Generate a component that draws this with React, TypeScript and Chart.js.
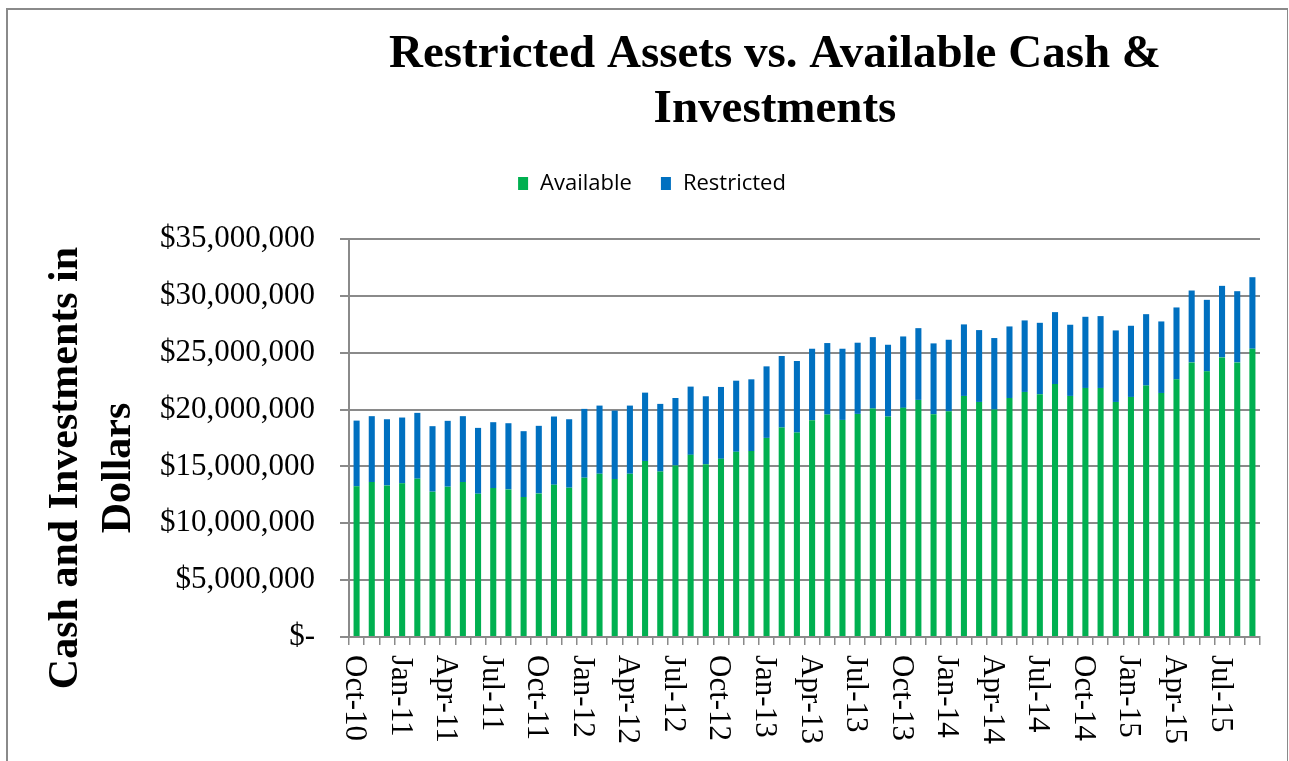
import React, { useEffect, useRef } from 'react';
import { Chart, registerables } from 'chart.js';

Chart.register(...registerables);

const months = [
  'Oct-10', 'Nov-10', 'Dec-10', 'Jan-11', 'Feb-11', 'Mar-11', 'Apr-11', 'May-11', 'Jun-11', 'Jul-11', 'Aug-11', 'Sep-11',
  'Oct-11', 'Nov-11', 'Dec-11', 'Jan-12', 'Feb-12', 'Mar-12', 'Apr-12', 'May-12', 'Jun-12', 'Jul-12', 'Aug-12', 'Sep-12',
  'Oct-12', 'Nov-12', 'Dec-12', 'Jan-13', 'Feb-13', 'Mar-13', 'Apr-13', 'May-13', 'Jun-13', 'Jul-13', 'Aug-13', 'Sep-13',
  'Oct-13', 'Nov-13', 'Dec-13', 'Jan-14', 'Feb-14', 'Mar-14', 'Apr-14', 'May-14', 'Jun-14', 'Jul-14', 'Aug-14', 'Sep-14',
  'Oct-14', 'Nov-14', 'Dec-14', 'Jan-15', 'Feb-15', 'Mar-15', 'Apr-15', 'May-15', 'Jun-15', 'Jul-15', 'Aug-15', 'Sep-15',
];

const available = [
  13250000, 13630000, 13330000, 13510000, 13920000, 12780000, 13220000, 13630000, 12600000, 13100000, 12980000, 12310000,
  12630000, 13390000, 13130000, 14010000, 14360000, 13890000, 14360000, 15480000, 14550000, 15090000, 16020000, 15200000,
  15670000, 16290000, 16350000, 17510000, 18420000, 17980000, 19060000, 19560000, 19090000, 19620000, 20090000, 19390000,
  20150000, 20850000, 19590000, 19850000, 21200000, 20670000, 20000000, 21020000, 21550000, 21350000, 22250000, 21200000,
  21900000, 21900000, 20670000, 21110000, 22110000, 21460000, 22660000, 24150000, 23360000, 24590000, 24150000, 25350000,
];

const restricted = [
  5780000, 5790000, 5820000, 5790000, 5790000, 5760000, 5790000, 5790000, 5790000, 5790000, 5820000, 5790000,
  5940000, 6000000, 6020000, 6050000, 5990000, 6020000, 5990000, 6010000, 5950000, 5930000, 6000000, 5970000,
  6320000, 6250000, 6310000, 6290000, 6290000, 6290000, 6290000, 6290000, 6260000, 6260000, 6280000, 6310000,
  6280000, 6310000, 6230000, 6290000, 6290000, 6320000, 6290000, 6290000, 6290000, 6280000, 6320000, 6260000,
  6260000, 6320000, 6290000, 6260000, 6280000, 6290000, 6320000, 6320000, 6290000, 6290000, 6260000, 6290000,
];

const seriesNames = ['Available', 'Restricted'];
const seriesColors = ['#00B050', '#0070C0'];
const titleLines = ['Restricted Assets vs. Available Cash &', 'Investments'];
const yTitleLines = ['Cash and Investments in', 'Dollars'];
const yMin = 0;
const yMax = 35000000;
const yStep = 5000000;
const xLabelEvery = 3;

const GRID = '#8a8a8a';
const SERIF = '"Liberation Serif", "Times New Roman", serif';

const decorPlugin = {
  id: 'decor',
  beforeDraw(chart: any) {
    const ctx = chart.ctx;
    ctx.save();
    ctx.fillStyle = '#ffffff';
    ctx.fillRect(0, 0, chart.width, chart.height);
    ctx.strokeStyle = GRID;
    ctx.lineWidth = 2;
    ctx.beginPath();
    ctx.moveTo(7, chart.height);
    ctx.lineTo(7, 9);
    ctx.lineTo(1288, 9);
    ctx.stroke();
    ctx.lineWidth = 1;
    ctx.beginPath();
    ctx.moveTo(1287.5, 9);
    ctx.lineTo(1287.5, chart.height);
    ctx.stroke();
    ctx.restore();
  },
  afterDraw(chart: any) {
    const ctx = chart.ctx;
    ctx.save();

    // Title
    ctx.fillStyle = '#000';
    ctx.font = `bold 47px ${SERIF}`;
    ctx.textAlign = 'center';
    ctx.textBaseline = 'alphabetic';
    ctx.fillText(titleLines[0], 775, 67);
    ctx.fillText(titleLines[1], 775, 122);

    // Legend
    ctx.font = '22px "Open Sans", "Noto Sans", sans-serif';
    const ds = chart.data.datasets;
    const widths = ds.map((d: any) => ctx.measureText(d.label).width);
    const box = 10;
    const gapText = 12;
    const gapItem = 29;
    let total = 0;
    widths.forEach((w: number, i: number) => {
      total += box + gapText + w + (i < widths.length - 1 ? gapItem : 0);
    });
    let lx = 652 - total / 2;
    ctx.textAlign = 'left';
    ctx.textBaseline = 'middle';
    ds.forEach((d: any, i: number) => {
      ctx.fillStyle = d.backgroundColor;
      ctx.fillRect(lx, 177, box, 13);
      lx += box + gapText;
      ctx.fillStyle = '#000';
      ctx.fillText(d.label, lx, 184);
      lx += widths[i] + gapItem;
    });

    // Y axis title
    ctx.font = `bold 42px ${SERIF}`;
    ctx.textAlign = 'center';
    ctx.textBaseline = 'alphabetic';
    const yBaselines = [77, 130];
    yTitleLines.forEach((t, i) => {
      ctx.save();
      ctx.translate(yBaselines[i], 468);
      ctx.rotate(-Math.PI / 2);
      ctx.fillText(t, 0, 0);
      ctx.restore();
    });

    // X tick labels (rotated clockwise)
    const xs = chart.scales.x;
    ctx.font = `31px ${SERIF}`;
    ctx.textAlign = 'left';
    ctx.textBaseline = 'alphabetic';
    chart.data.labels.forEach((lab: string, i: number) => {
      if (i % xLabelEvery !== 0) return;
      const cx = xs.getPixelForValue(i);
      ctx.save();
      ctx.translate(cx - 10.5, 655);
      ctx.rotate(Math.PI / 2);
      ctx.fillText(lab, 0, 0);
      ctx.restore();
    });

    ctx.restore();
  },
};

export default function App() {
  const ref = useRef<HTMLCanvasElement | null>(null);

  useEffect(() => {
    if (!ref.current) return;
    const chart = new Chart(ref.current, {
      type: 'bar',
      data: {
        labels: months,
        datasets: [
          { label: seriesNames[0], data: available, backgroundColor: seriesColors[0], barPercentage: 0.4, categoryPercentage: 1 },
          { label: seriesNames[1], data: restricted, backgroundColor: seriesColors[1], barPercentage: 0.4, categoryPercentage: 1 },
        ],
      },
      options: {
        responsive: false,
        animation: false,
        devicePixelRatio: 1,
        events: [],
        layout: { padding: { left: 0, right: 29, top: 239, bottom: 0 } },
        plugins: {
          legend: { display: false },
          title: { display: false },
          tooltip: { enabled: false },
        },
        scales: {
          x: {
            stacked: true,
            offset: true,
            grid: {
              display: true,
              drawOnChartArea: false,
              drawTicks: true,
              tickLength: 8,
              color: GRID,
              lineWidth: 1.5,
              offset: true,
            },
            border: { display: true, color: GRID, width: 2 },
            ticks: { display: false, autoSkip: false },
            afterFit: (scale: any) => {
              scale.height = 124;
            },
          },
          y: {
            stacked: true,
            min: yMin,
            max: yMax,
            grid: { color: GRID, lineWidth: 2, tickLength: 9, drawTicks: true },
            border: { display: true, color: GRID, width: 2 },
            ticks: {
              stepSize: yStep,
              padding: 25,
              color: '#000',
              font: { family: SERIF, size: 31 },
              callback: (v: any) => (Number(v) === 0 ? '$-' : '$' + Number(v).toLocaleString('en-US')),
            },
            afterFit: (scale: any) => {
              scale.width = 349;
            },
          },
        },
      },
      plugins: [decorPlugin],
    });
    return () => chart.destroy();
  }, []);

  return (
    <div style={{ position: 'fixed', left: 0, top: 0, width: 1289, height: 761, background: '#fff' }}>
      <canvas ref={ref} width={1289} height={761} style={{ display: 'block', width: 1289, height: 761 }} />
    </div>
  );
}
